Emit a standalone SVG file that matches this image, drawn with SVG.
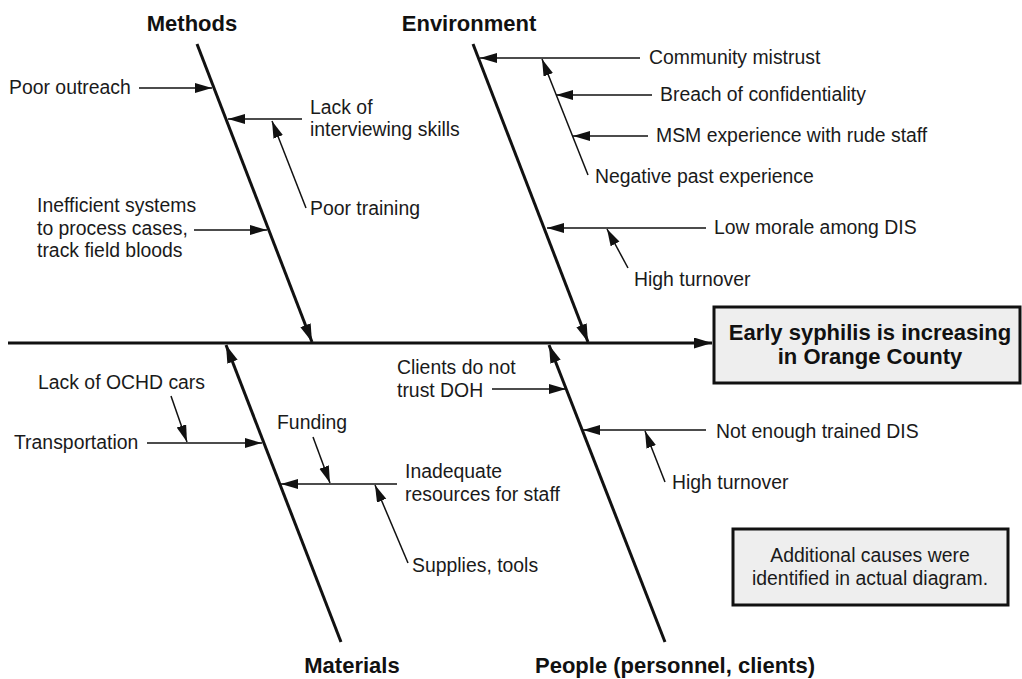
<svg xmlns="http://www.w3.org/2000/svg" width="1022" height="679" viewBox="0 0 1022 679">
  <style>
    .lbl { font-family: "Liberation Sans", Arial, sans-serif; font-size: 19.4px; fill: #1a1a1a; }
    .cat { font-family: "Liberation Sans", Arial, sans-serif; font-size: 22px; font-weight: bold; fill: #111; }
    .bold { font-family: "Liberation Sans", Arial, sans-serif; font-size: 22px; font-weight: bold; fill: #111; }
    .bone { stroke: #111; stroke-width: 3; fill: none; }
    .twig { stroke: #111; stroke-width: 1.5; fill: none; }
    .box { fill: #eeeeee; stroke: #111; stroke-width: 3; }
  </style>
  <defs>
    <marker id="head" markerUnits="userSpaceOnUse" markerWidth="18" markerHeight="12" refX="17" refY="5" orient="auto">
      <path d="M0,0 L17,5 L0,10 z" fill="#111"/>
    </marker>
    <marker id="headBig" markerUnits="userSpaceOnUse" markerWidth="20" markerHeight="12" refX="18" refY="5.5" orient="auto">
      <path d="M0,0 L18,5.5 L0,11 z" fill="#111"/>
    </marker>
  </defs>

  <rect width="1022" height="679" fill="#ffffff"/>

  <!-- connectors: spine, category bones and cause branches -->
  <g id="connectors">
    <line class="bone" x1="8" y1="343" x2="712" y2="343" marker-end="url(#headBig)"/>
    <line class="bone" x1="197" y1="44" x2="312" y2="342" marker-end="url(#headBig)"/>
    <line class="bone" x1="473" y1="44" x2="588" y2="342" marker-end="url(#headBig)"/>
    <line class="bone" x1="341" y1="642" x2="226" y2="345" marker-end="url(#headBig)"/>
    <line class="bone" x1="665" y1="642" x2="549" y2="345" marker-end="url(#headBig)"/>

    <!-- Methods -->
    <line class="twig" x1="139" y1="88" x2="212" y2="88" marker-end="url(#head)"/>
    <line class="twig" x1="302" y1="119" x2="228" y2="119" marker-end="url(#head)"/>
    <line class="twig" x1="306" y1="208" x2="272" y2="121" marker-end="url(#head)"/>
    <line class="twig" x1="194" y1="230" x2="267" y2="230" marker-end="url(#head)"/>

    <!-- Environment -->
    <line class="twig" x1="640" y1="58" x2="480" y2="58" marker-end="url(#head)"/>
    <line class="twig" x1="652" y1="95" x2="556" y2="95" marker-end="url(#head)"/>
    <line class="twig" x1="648" y1="136" x2="573" y2="136" marker-end="url(#head)"/>
    <line class="twig" x1="588" y1="175" x2="542" y2="59" marker-end="url(#head)"/>
    <line class="twig" x1="706" y1="228" x2="547" y2="228" marker-end="url(#head)"/>
    <line class="twig" x1="628" y1="268" x2="607" y2="229" marker-end="url(#head)"/>

    <!-- Materials -->
    <line class="twig" x1="171" y1="396" x2="187" y2="442" marker-end="url(#head)"/>
    <line class="twig" x1="147" y1="443" x2="262" y2="443" marker-end="url(#head)"/>
    <line class="twig" x1="313" y1="437" x2="330" y2="483" marker-end="url(#head)"/>
    <line class="twig" x1="397" y1="484" x2="281" y2="484" marker-end="url(#head)"/>
    <line class="twig" x1="408" y1="563" x2="375" y2="485" marker-end="url(#head)"/>

    <!-- People -->
    <line class="twig" x1="492" y1="389" x2="566" y2="389" marker-end="url(#head)"/>
    <line class="twig" x1="706" y1="430" x2="583" y2="430" marker-end="url(#head)"/>
    <line class="twig" x1="665" y1="482" x2="645" y2="431" marker-end="url(#head)"/>
  </g>

  <!-- effect -->
  <g id="effect">
    <rect class="box" x="714" y="307" width="306" height="76"/>
    <text class="bold" x="870" y="340" text-anchor="middle">Early syphilis is increasing</text>
    <text class="bold" x="870" y="364" text-anchor="middle">in Orange County</text>
  </g>

  <!-- category headings -->
  <g id="cat-methods"><text class="cat" x="192" y="31" text-anchor="middle">Methods</text></g>
  <g id="cat-environment"><text class="cat" x="469" y="31" text-anchor="middle">Environment</text></g>
  <g id="cat-materials"><text class="cat" x="352" y="673" text-anchor="middle">Materials</text></g>
  <g id="cat-people"><text class="cat" x="535" y="673">People (personnel, clients)</text></g>

  <!-- Methods causes -->
  <g id="poor-outreach"><text class="lbl" x="9" y="94">Poor outreach</text></g>
  <g id="lack-interviewing">
    <text class="lbl" x="310" y="114">Lack of</text>
    <text class="lbl" x="310" y="136">interviewing skills</text>
  </g>
  <g id="poor-training"><text class="lbl" x="310" y="215">Poor training</text></g>
  <g id="inefficient-systems">
    <text class="lbl" x="37" y="212">Inefficient systems</text>
    <text class="lbl" x="37" y="235">to process cases,</text>
    <text class="lbl" x="37" y="257">track field bloods</text>
  </g>

  <!-- Environment causes -->
  <g id="community-mistrust"><text class="lbl" x="649" y="64">Community mistrust</text></g>
  <g id="breach"><text class="lbl" x="660" y="101">Breach of confidentiality</text></g>
  <g id="msm-experience"><text class="lbl" x="656" y="142">MSM experience with rude staff</text></g>
  <g id="negative-past"><text class="lbl" x="595" y="183">Negative past experience</text></g>
  <g id="low-morale"><text class="lbl" x="714" y="234">Low morale among DIS</text></g>
  <g id="high-turnover-env"><text class="lbl" x="634" y="286">High turnover</text></g>

  <!-- Materials causes -->
  <g id="ochd-cars"><text class="lbl" x="38" y="389">Lack of OCHD cars</text></g>
  <g id="transportation"><text class="lbl" x="14" y="449">Transportation</text></g>
  <g id="funding"><text class="lbl" x="277" y="429">Funding</text></g>
  <g id="inadequate-resources">
    <text class="lbl" x="405" y="478">Inadequate</text>
    <text class="lbl" x="405" y="501">resources for staff</text>
  </g>
  <g id="supplies"><text class="lbl" x="412" y="572">Supplies, tools</text></g>

  <!-- People causes -->
  <g id="clients-trust">
    <text class="lbl" x="397" y="374">Clients do not</text>
    <text class="lbl" x="397" y="397">trust DOH</text>
  </g>
  <g id="not-enough-dis"><text class="lbl" x="716" y="438">Not enough trained DIS</text></g>
  <g id="high-turnover-people"><text class="lbl" x="672" y="489">High turnover</text></g>

  <!-- note -->
  <g id="note">
    <rect class="box" x="733" y="529" width="275" height="76"/>
    <text class="lbl" x="870" y="562" text-anchor="middle">Additional causes were</text>
    <text class="lbl" x="870" y="585" text-anchor="middle">identified in actual diagram.</text>
  </g>
</svg>
